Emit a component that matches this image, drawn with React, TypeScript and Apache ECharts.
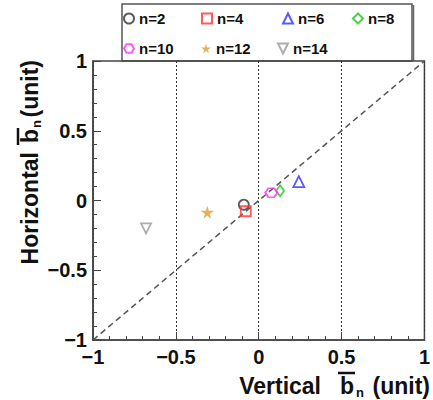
import React, { useEffect, useRef } from "react";
import * as echarts from "echarts";

// Mean offsets for each n, vertical vs horizontal
const labels = ["n=2", "n=4", "n=6", "n=8", "n=10", "n=12", "n=14"];
const verticalB = [-0.09, -0.078, 0.242, 0.129, 0.076, -0.31, -0.68];
const horizontalB = [-0.03, -0.077, 0.135, 0.07, 0.056, -0.085, -0.2];
const colors = ["#333333", "#ff3030", "#3030ff", "#22c022", "#ff30ff", "#d9a035", "#9a9a9a"];
const diagonal = [
  [-1, -1],
  [1, 1],
];

const FONT = "'Liberation Sans', Arial, Helvetica, sans-serif";

const symbols: any[] = [
  "circle",
  "rect",
  "triangle",
  "diamond",
  "path://M0,5 L3,0 L9,0 L12,5 L9,10 L3,10 Z",
  "path://M50,0 L61,35 L98,35 L68,57 L79,91 L50,70 L21,91 L32,57 L2,35 L39,35 Z",
  "path://M0,0 L10,0 L5,10 Z",
];
const symbolSizes: any[] = [10, 10, 11, [8, 11], [12, 9], 13, 10];
const filled = [false, false, false, false, false, true, false];

// legend slot positions (left, top) of each entry
const legendSlots = [
  [123, 11],
  [201, 11],
  [282, 11],
  [352, 11],
  [123, 41],
  [201, 41],
  [277, 41],
];

const mainText = { fontFamily: FONT, fontWeight: "bold", fontSize: 23, fill: "#111", verticalAlign: "middle" };
const subText = { fontFamily: FONT, fontWeight: "bold", fontSize: 13, fill: "#111", verticalAlign: "middle" };

// Axis title "<word> b̄_n (unit)", laid out along local +x ending at x = 0
function axisTitle(word: string, o: { n: number; b: number; w: number; bar: number; sub: number }) {
  return [
    { type: "text", x: 0, y: 0, style: { ...mainText, text: "(unit)", align: "right" } },
    { type: "text", x: -o.n, y: o.sub, style: { ...subText, text: "n", align: "left" } },
    { type: "text", x: -o.b, y: 0, style: { ...mainText, text: "b", align: "left" } },
    {
      type: "line",
      shape: { x1: -o.b - 2, y1: o.bar, x2: -o.b + 15, y2: o.bar },
      style: { stroke: "#111", lineWidth: 2.5 },
    },
    { type: "text", x: -o.w, y: 0, style: { ...mainText, text: word, align: "right" } },
  ];
}

export default function App() {
  const ref = useRef<HTMLDivElement>(null);

  useEffect(() => {
    if (!ref.current) return;
    const chart = echarts.init(ref.current, undefined, { renderer: "svg" });

    const fmt = (v: number) => {
      const s = Math.abs(v) < 1e-9 ? "0" : String(Math.round(v * 10) / 10);
      return s.replace("-", "\u2212");
    };

    const scatterSeries = labels.map((name, i) => ({
      name,
      type: "scatter",
      data: [[verticalB[i], horizontalB[i]]],
      symbol: symbols[i],
      symbolSize: symbolSizes[i],
      itemStyle: filled[i]
        ? { color: colors[i] }
        : { color: "rgba(255,255,255,0)", borderColor: colors[i], borderWidth: 1.8 },
      z: 5,
    }));

    const axisCommon = {
      type: "value",
      min: -1,
      max: 1,
      interval: 0.5,
      axisLine: { show: true, onZero: false, lineStyle: { color: "#444", width: 1.5 } },
      axisTick: { show: true, inside: true, length: 8, lineStyle: { color: "#444" } },
      minorTick: { show: true, splitNumber: 5, length: 4, lineStyle: { color: "#444" } },
      axisLabel: {
        margin: 7,
        fontFamily: FONT,
        fontWeight: "bold",
        fontSize: 20,
        color: "#111",
        formatter: fmt,
        showMinLabel: true,
        showMaxLabel: true,
      },
    };

    chart.setOption({
      animation: false,
      backgroundColor: "#ffffff",
      grid: {
        left: 93,
        right: 3,
        top: 61,
        bottom: 60,
        show: true,
        borderColor: "#444",
        borderWidth: 1.5,
        backgroundColor: "transparent",
      },
      legend: labels.map((name, i) => ({
        data: [name],
        left: legendSlots[i][0],
        top: legendSlots[i][1],
        itemWidth: 10,
        itemHeight: 10,
        itemGap: 0,
        padding: 0,
        selectedMode: false,
        textStyle: { fontFamily: FONT, fontWeight: "bold", fontSize: 15, color: "#111" },
      })),
      xAxis: {
        ...axisCommon,
        splitLine: { show: true, lineStyle: { color: "#333", type: [2, 2], width: 1 } },
      },
      yAxis: {
        ...axisCommon,
        axisLabel: { ...axisCommon.axisLabel, margin: 6 },
        splitLine: { show: false },
      },
      graphic: [
        {
          type: "rect",
          shape: { x: 122, y: 4, width: 290, height: 57 },
          style: { fill: "#fff", stroke: "#555", lineWidth: 1.5 },
          z: -1,
        },
        {
          type: "line",
          shape: { x1: 413.5, y1: 5, x2: 413.5, y2: 61 },
          style: { stroke: "#666", lineWidth: 1.5 },
          z: -1,
        },
        {
          type: "group",
          x: 430,
          y: 386,
          children: axisTitle("Vertical", { n: 74, b: 90, w: 109, bar: -13, sub: 6 }),
        },
        {
          type: "group",
          x: 30,
          y: 60,
          rotation: Math.PI / 2,
          children: axisTitle("Horizontal", { n: 68, b: 83, w: 92, bar: -12, sub: 6 }),
        },
      ],
      series: [
        {
          type: "line",
          data: diagonal,
          symbol: "none",
          silent: true,
          lineStyle: { color: "#555", width: 1.5, type: [6, 4] },
          z: 3,
        },
        ...scatterSeries,
      ],
    });

    return () => chart.dispose();
  }, []);

  return <div ref={ref} style={{ position: "absolute", left: 0, top: 0, width: 433, height: 400 }} />;
}
